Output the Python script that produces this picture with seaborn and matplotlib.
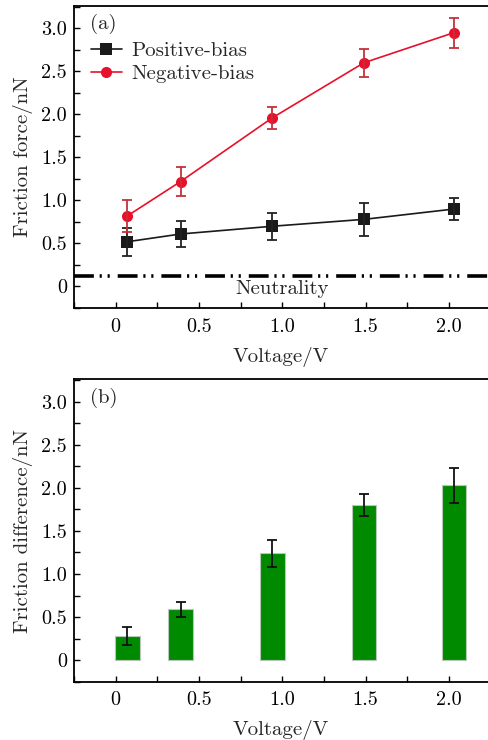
import numpy as np
import pandas as pd
import matplotlib
matplotlib.use("Agg")
import matplotlib.pyplot as plt
import seaborn as sns
from matplotlib.ticker import MultipleLocator, FixedLocator, FixedFormatter

# data
voltage = [0.07, 0.39, 0.94, 1.49, 2.03]
pos_force = [0.52, 0.61, 0.70, 0.78, 0.90]
pos_err = [0.16, 0.15, 0.155, 0.19, 0.125]
neg_force = [0.82, 1.22, 1.96, 2.60, 2.95]
neg_err = [0.185, 0.165, 0.125, 0.16, 0.175]
diff_force = [0.28, 0.59, 1.24, 1.80, 2.03]
diff_err = [0.10, 0.09, 0.155, 0.13, 0.20]
neutral_level = 0.125

xtick_vals = [0, 0.5, 1.0, 1.5, 2.0]
xtick_labels = ["0", "0.5", "1.0", "1.5", "2.0"]
ytick_vals = [0, 0.5, 1.0, 1.5, 2.0, 2.5, 3.0]
ytick_labels = ["0", "0.5", "1.0", "1.5", "2.0", "2.5", "3.0"]

sns.set_theme(style="ticks")
plt.rcParams["font.family"] = ["cmr10", "DejaVu Serif"]
plt.rcParams["mathtext.fontset"] = "cm"
plt.rcParams["axes.unicode_minus"] = False

FS = 15

df_a = pd.DataFrame({
    "voltage": voltage * 2,
    "force": pos_force + neg_force,
    "bias": ["Positive-bias"] * 5 + ["Negative-bias"] * 5,
})
df_b = pd.DataFrame({"voltage": voltage, "diff": diff_force})

fig = plt.figure(figsize=(4.88, 7.40), dpi=100)
ax1 = fig.add_axes([0.1516, 0.5838, 0.8484, 0.4081])
ax2 = fig.add_axes([0.1516, 0.0788, 0.8484, 0.4086])


def style_axis(ax, ylabel):
    ax.set_xlim(-0.25, 2.235)
    ax.set_ylim(-0.25, 3.26)
    ax.xaxis.set_major_locator(FixedLocator(xtick_vals))
    ax.xaxis.set_major_formatter(FixedFormatter(xtick_labels))
    ax.yaxis.set_major_locator(FixedLocator(ytick_vals))
    ax.yaxis.set_major_formatter(FixedFormatter(ytick_labels))
    ax.xaxis.set_minor_locator(MultipleLocator(0.25))
    ax.yaxis.set_minor_locator(MultipleLocator(0.25))
    ax.tick_params(which="both", direction="in", length=4.5, width=1.0,
                   labelsize=14.5, colors="black")
    ax.tick_params(axis="x", which="major", pad=7)
    ax.tick_params(axis="y", which="major", pad=5)
    ax.tick_params(which="both", top=False, right=False)
    for s in ax.spines.values():
        s.set_linewidth(1.3)
        s.set_color("black")
    ax.spines["right"].set_visible(False)
    ax.set_xlabel("Voltage/V", fontsize=FS, labelpad=8)
    ax.set_ylabel(ylabel, fontsize=FS, labelpad=6)


# (a) friction force
palette = {"Positive-bias": "#1a1a1a", "Negative-bias": "#e8102a"}
sns.lineplot(data=df_a, x="voltage", y="force", hue="bias", style="bias",
             markers={"Positive-bias": "s", "Negative-bias": "o"}, dashes=False,
             palette=palette, markersize=8, markeredgewidth=0, linewidth=1.2,
             ax=ax1, legend=True)
ax1.errorbar(voltage, pos_force, yerr=pos_err, fmt="none", ecolor="#222222",
             elinewidth=1.3, capsize=3.5, capthick=1.3)
ax1.errorbar(voltage, neg_force, yerr=neg_err, fmt="none", ecolor="#c4303a",
             elinewidth=1.3, capsize=3.5, capthick=1.3)
ax1.axhline(neutral_level, color="black", linewidth=2.6,
            linestyle=(0, (5.5, 1.6, 0.6, 1.6, 0.6, 2.2)))
ax1.text(1.0, -0.03, "Neutrality", ha="center", va="center", fontsize=FS)
ax1.text(0.039, 0.94, "(a)", transform=ax1.transAxes, ha="left", va="center",
         fontsize=FS)
leg = ax1.legend(loc="upper left", bbox_to_anchor=(0.005, 0.93), frameon=False,
                 fontsize=FS, handlelength=1.5, handletextpad=0.45,
                 labelspacing=0.2, borderaxespad=0.3)
style_axis(ax1, "Friction force/nN")

# (b) friction difference
sns.barplot(data=df_b, x="voltage", y="diff", native_scale=True, width=0.46,
            color="#008a00", saturation=1, edgecolor="#b8c8b8", linewidth=0.8,
            errorbar=None, ax=ax2)
ax2.errorbar(voltage, diff_force, yerr=diff_err, fmt="none", ecolor="#111111",
             elinewidth=1.3, capsize=3.5, capthick=1.3)
ax2.text(0.039, 0.94, "(b)", transform=ax2.transAxes, ha="left", va="center",
         fontsize=FS)
style_axis(ax2, "Friction difference/nN")

fig.savefig("out.png", dpi=100)
